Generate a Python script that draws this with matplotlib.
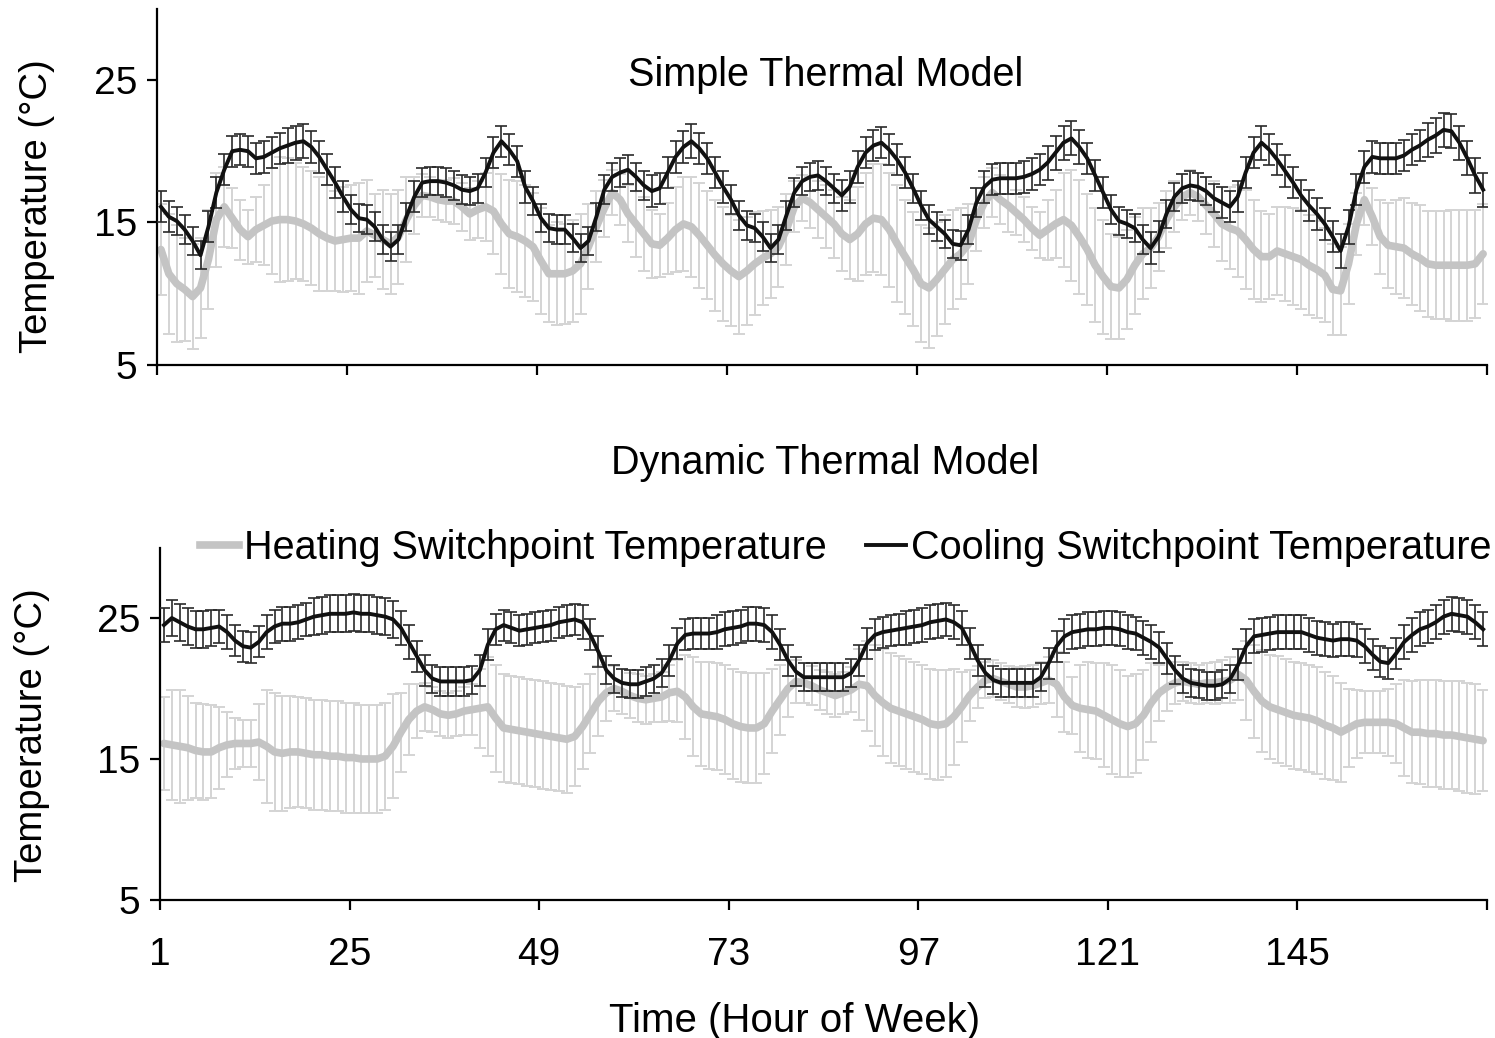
import numpy as np
import matplotlib
matplotlib.use("Agg")
import matplotlib.pyplot as plt
from matplotlib.lines import Line2D

plt.rcParams["font.family"] = ["Liberation Sans", "DejaVu Sans"]

hours = np.arange(1, 169)
tick_hours = [1, 25, 49, 73, 97, 121, 145, 169]

# simple thermal model: hourly mean switchpoints and standard deviations (degC)
simple_heat = [
    13.1, 11.4, 10.7, 10.3, 9.8, 10.4, 12.4, 15.2, 16.1, 15.3, 14.5, 14.0,
    14.5, 14.8, 15.1, 15.2, 15.2, 15.1, 14.9, 14.6, 14.2, 13.9, 13.7, 13.8,
    13.9, 13.9, 14.4, 14.1, 13.8, 13.5, 14.0, 15.2, 16.2, 16.9, 16.8, 16.6,
    16.5, 16.5, 16.1, 15.6, 15.9, 16.1, 15.8, 14.9, 14.2, 14.0, 13.7, 13.3,
    12.3, 11.4, 11.4, 11.4, 11.6, 12.1, 13.3, 14.7, 16.0, 17.1, 16.6, 15.6,
    14.9, 14.2, 13.5, 13.4, 13.9, 14.5, 14.9, 14.7, 14.1, 13.4, 12.7, 12.1,
    11.6, 11.2, 11.6, 12.1, 12.5, 12.8, 13.3, 14.5, 16.1, 16.7, 16.4, 15.9,
    15.4, 14.9, 14.2, 13.8, 14.2, 14.9, 15.3, 15.2, 14.5, 13.5, 12.6, 11.7,
    10.7, 10.4, 11.0, 11.7, 12.4, 12.8, 13.5, 15.2, 16.4, 17.1, 16.6, 16.2,
    15.7, 15.2, 14.6, 14.1, 14.5, 14.9, 15.2, 14.8, 14.0, 13.1, 12.0, 11.2,
    10.5, 10.4, 11.0, 12.0, 12.8, 13.2, 14.0, 15.2, 16.1, 16.8, 17.1, 16.8,
    16.2, 15.6, 14.9, 14.6, 14.4, 13.8, 13.1, 12.6, 12.6, 13.0, 12.8, 12.6,
    12.4, 12.0, 11.7, 11.3, 10.3, 10.2, 12.1, 14.9, 16.6, 15.4, 14.0, 13.4,
    13.3, 13.2, 12.8, 12.5, 12.1, 12.0, 12.0, 12.0, 12.0, 12.0, 12.1, 12.8,
]
simple_heat_sd = [
    3.2, 4.2, 4.1, 3.6, 3.7, 3.5, 3.5, 3.3, 2.8, 2.1, 2.1, 1.9,
    2.3, 2.8, 3.7, 4.4, 4.3, 4.1, 4.0, 4.0, 4.0, 3.7, 3.5, 3.7,
    3.7, 3.9, 3.6, 2.9, 3.5, 3.5, 3.3, 3.0, 2.0, 1.5, 1.4, 1.4,
    1.5, 1.6, 1.7, 1.8, 2.0, 2.4, 3.0, 3.5, 3.8, 3.9, 3.9, 3.8,
    3.7, 3.4, 3.6, 3.5, 3.6, 3.5, 3.0, 2.5, 2.0, 1.6, 1.8, 2.0,
    2.3, 2.6, 2.4, 2.2, 2.5, 3.0, 3.3, 3.5, 3.7, 3.8, 3.9, 4.0,
    3.9, 4.0, 3.8, 3.6, 3.3, 3.1, 2.8, 2.5, 1.8, 1.6, 1.8, 2.0,
    2.2, 2.4, 2.6, 2.8, 3.3, 3.6, 3.8, 3.9, 4.0, 4.1, 4.0, 4.0,
    4.1, 4.2, 4.0, 3.8, 3.5, 3.2, 2.8, 2.2, 1.8, 1.7, 1.7, 1.9,
    1.6, 1.6, 1.5, 1.6, 2.1, 2.4, 3.3, 3.9, 4.0, 3.9, 4.0, 4.0,
    3.7, 3.6, 3.5, 3.4, 3.2, 2.8, 2.4, 2.0, 1.8, 1.6, 1.6, 1.7,
    2.0, 2.3, 2.6, 2.9, 3.2, 3.5, 3.5, 3.2, 3.0, 3.1, 3.3, 3.4,
    3.5, 3.5, 3.4, 3.3, 3.2, 3.1, 2.8, 2.2, 1.8, 2.0, 2.6, 3.0,
    3.3, 3.5, 3.6, 3.7, 3.7, 3.8, 3.8, 3.9, 3.9, 3.9, 3.8, 3.5,
]
simple_cool = [
    16.1, 15.4, 15.1, 14.5, 13.7, 12.7, 14.7, 17.1, 18.7, 20.0, 20.1, 20.0,
    19.5, 19.6, 19.9, 20.2, 20.4, 20.6, 20.7, 20.3, 19.6, 18.7, 17.8, 16.8,
    15.9, 15.3, 15.2, 14.7, 13.8, 13.3, 13.8, 15.4, 16.8, 17.8, 17.9, 17.9,
    17.8, 17.6, 17.3, 17.2, 17.4, 18.5, 19.9, 20.7, 20.1, 19.3, 17.5, 16.5,
    15.3, 14.6, 14.5, 14.5, 13.9, 13.2, 13.7, 15.4, 17.3, 18.2, 18.5, 18.7,
    18.2, 17.6, 17.2, 17.4, 18.5, 19.6, 20.3, 20.7, 20.2, 19.5, 18.5, 17.5,
    16.6, 15.5, 14.8, 14.6, 14.0, 13.2, 13.8, 15.5, 17.1, 17.9, 18.2, 18.3,
    17.9, 17.4, 16.9, 17.5, 18.9, 19.9, 20.4, 20.6, 20.1, 19.4, 18.5, 17.4,
    16.2, 15.2, 14.7, 14.2, 13.5, 13.4, 14.5, 16.4, 17.5, 18.0, 18.1, 18.1,
    18.1, 18.2, 18.4, 18.7, 19.2, 19.9, 20.6, 20.9, 20.3, 19.5, 18.3, 17.1,
    15.9, 15.1, 14.9, 14.6, 13.8, 13.2, 14.0, 15.6, 16.8, 17.4, 17.6, 17.5,
    17.2, 16.7, 16.4, 16.1, 16.8, 18.5, 19.9, 20.6, 20.1, 19.4, 18.6, 17.8,
    16.9, 16.2, 15.6, 14.9, 14.0, 13.0, 14.7, 17.3, 18.9, 19.6, 19.5, 19.5,
    19.5, 19.7, 20.1, 20.4, 20.8, 21.1, 21.5, 21.4, 20.6, 19.5, 18.3, 17.3,
]
simple_cool_sd = [
    1.1, 1.1, 1.0, 1.0, 1.0, 1.0, 1.1, 1.1, 1.1, 1.1, 1.1, 1.1,
    1.1, 1.1, 1.1, 1.1, 1.2, 1.2, 1.2, 1.1, 1.1, 1.1, 1.1, 1.1,
    1.0, 1.0, 1.0, 1.0, 1.0, 1.0, 1.0, 1.0, 1.1, 1.0, 1.0, 1.0,
    1.0, 1.0, 1.0, 1.0, 1.0, 1.0, 1.1, 1.1, 1.1, 1.1, 1.1, 1.0,
    1.0, 1.0, 1.0, 1.0, 1.0, 1.0, 1.0, 1.0, 1.0, 1.0, 1.0, 1.0,
    1.0, 1.0, 1.1, 1.1, 1.1, 1.1, 1.1, 1.2, 1.1, 1.1, 1.1, 1.1,
    1.0, 1.0, 1.0, 1.0, 1.0, 1.0, 1.0, 1.0, 1.0, 1.0, 1.0, 1.0,
    1.0, 1.0, 1.1, 1.1, 1.1, 1.1, 1.1, 1.1, 1.1, 1.1, 1.1, 1.0,
    1.0, 1.0, 1.0, 1.0, 1.0, 1.0, 1.0, 1.0, 1.1, 1.1, 1.1, 1.1,
    1.1, 1.1, 1.1, 1.1, 1.2, 1.2, 1.2, 1.2, 1.2, 1.1, 1.1, 1.1,
    1.0, 1.0, 1.0, 1.0, 1.0, 1.1, 1.1, 1.0, 1.0, 1.0, 1.0, 1.0,
    1.0, 1.0, 1.1, 1.1, 1.1, 1.1, 1.1, 1.2, 1.1, 1.1, 1.1, 1.1,
    1.1, 1.1, 1.1, 1.1, 1.1, 1.2, 1.2, 1.1, 1.1, 1.1, 1.1, 1.1,
    1.1, 1.1, 1.1, 1.1, 1.2, 1.2, 1.2, 1.2, 1.2, 1.2, 1.2, 1.2,
]

# dynamic thermal model
dynamic_heat = [
    16.1, 16.0, 15.9, 15.8, 15.6, 15.5, 15.5, 15.8, 16.0, 16.1, 16.1, 16.1,
    16.2, 15.9, 15.5, 15.4, 15.5, 15.5, 15.4, 15.3, 15.3, 15.2, 15.2, 15.1,
    15.1, 15.0, 15.0, 15.0, 15.2, 15.9, 16.9, 17.8, 18.4, 18.7, 18.5, 18.2,
    18.1, 18.2, 18.4, 18.5, 18.6, 18.7, 17.9, 17.2, 17.1, 17.0, 16.9, 16.8,
    16.7, 16.6, 16.5, 16.4, 16.6, 17.3, 18.2, 19.1, 19.7, 20.0, 19.8, 19.5,
    19.3, 19.2, 19.3, 19.4, 19.7, 19.8, 19.4, 18.7, 18.2, 18.1, 18.0, 17.8,
    17.5, 17.3, 17.2, 17.2, 17.5, 18.4, 19.2, 20.0, 20.5, 20.4, 20.2, 19.9,
    19.7, 19.5, 19.7, 19.9, 20.3, 20.2, 19.5, 19.0, 18.6, 18.4, 18.2, 18.0,
    17.8, 17.5, 17.4, 17.5, 18.0, 18.7, 19.5, 20.1, 20.6, 20.7, 20.5, 20.3,
    20.1, 20.1, 20.2, 20.4, 20.6, 20.3, 19.4, 18.8, 18.6, 18.5, 18.4, 18.1,
    17.8, 17.5, 17.3, 17.5, 18.1, 19.0, 19.7, 20.1, 20.4, 20.5, 20.4, 20.3,
    20.4, 20.4, 20.5, 20.6, 21.0, 20.6, 19.8, 19.1, 18.7, 18.5, 18.3, 18.1,
    18.0, 17.9, 17.7, 17.4, 17.2, 16.9, 17.2, 17.5, 17.6, 17.6, 17.6, 17.6,
    17.5, 17.2, 16.9, 16.9, 16.8, 16.8, 16.7, 16.7, 16.6, 16.5, 16.4, 16.3,
]
dynamic_heat_sd = [
    3.3, 3.9, 4.0, 3.7, 3.4, 3.4, 3.3, 2.9, 2.3, 1.8, 1.7, 1.7,
    2.7, 4.0, 4.2, 4.1, 4.0, 3.9, 3.9, 3.9, 3.9, 3.9, 3.9, 3.9,
    3.9, 3.8, 3.8, 3.8, 3.8, 3.7, 2.8, 2.5, 1.9, 1.7, 1.6, 1.6,
    1.6, 1.6, 1.7, 1.8, 2.8, 3.5, 3.8, 3.8, 3.8, 3.8, 3.8, 3.8,
    3.8, 3.8, 3.8, 3.8, 3.5, 3.0, 2.8, 2.5, 2.0, 1.6, 1.6, 1.6,
    1.7, 1.7, 1.7, 1.8, 2.0, 2.2, 3.0, 3.5, 3.7, 3.8, 3.8, 3.9,
    3.9, 3.9, 3.9, 3.9, 3.6, 3.0, 2.5, 2.0, 1.5, 1.4, 1.4, 1.4,
    1.5, 1.5, 1.5, 1.6, 2.5, 3.2, 3.6, 3.8, 3.9, 3.9, 3.9, 3.9,
    3.9, 3.9, 3.9, 3.8, 3.4, 2.5, 1.8, 1.5, 1.3, 1.3, 1.3, 1.3,
    1.4, 1.5, 1.5, 1.5, 1.6, 2.3, 2.5, 2.0, 3.1, 3.4, 3.4, 3.7,
    3.9, 3.8, 3.6, 3.5, 3.2, 2.8, 2.0, 1.7, 1.5, 1.4, 1.4, 1.4,
    1.4, 1.5, 1.5, 1.6, 1.8, 2.8, 3.3, 3.6, 3.7, 3.8, 3.8, 3.8,
    3.8, 3.8, 3.8, 3.8, 3.7, 3.5, 2.8, 2.4, 2.2, 2.2, 2.2, 2.4,
    2.8, 3.4, 3.6, 3.7, 3.8, 3.8, 3.8, 3.8, 3.9, 3.9, 3.9, 3.6,
]
dynamic_cool = [
    24.5, 25.0, 24.7, 24.4, 24.2, 24.2, 24.3, 24.4, 24.0, 23.4, 23.0, 22.9,
    23.3, 24.0, 24.4, 24.6, 24.6, 24.7, 24.9, 25.1, 25.2, 25.3, 25.3, 25.3,
    25.4, 25.3, 25.3, 25.2, 25.1, 24.9, 24.3, 23.3, 22.3, 21.3, 20.7, 20.5,
    20.5, 20.5, 20.5, 20.6, 21.3, 23.1, 24.2, 24.5, 24.3, 24.1, 24.2, 24.3,
    24.4, 24.5, 24.7, 24.8, 24.9, 24.7, 23.8, 22.6, 21.3, 20.7, 20.4, 20.3,
    20.3, 20.5, 20.7, 21.1, 22.0, 23.2, 23.8, 23.9, 23.9, 23.9, 24.0, 24.2,
    24.3, 24.4, 24.6, 24.6, 24.5, 24.0, 23.1, 22.0, 21.2, 20.8, 20.8, 20.8,
    20.8, 20.8, 20.8, 21.1, 22.0, 23.2, 23.8, 24.0, 24.1, 24.2, 24.3, 24.4,
    24.5, 24.7, 24.8, 24.9, 24.7, 24.3, 23.2, 22.0, 21.1, 20.6, 20.4, 20.4,
    20.4, 20.4, 20.4, 20.8, 21.8, 23.0, 23.7, 24.0, 24.1, 24.2, 24.2, 24.3,
    24.3, 24.2, 24.0, 23.9, 23.6, 23.3, 22.9, 22.1, 21.3, 20.7, 20.4, 20.3,
    20.2, 20.2, 20.3, 20.7, 21.7, 23.0, 23.7, 23.8, 23.9, 24.0, 24.0, 24.0,
    24.0, 23.8, 23.6, 23.5, 23.4, 23.5, 23.5, 23.4, 23.0, 22.4, 21.9, 21.8,
    22.5, 23.3, 23.8, 24.2, 24.4, 24.7, 25.1, 25.3, 25.2, 25.1, 24.7, 24.2,
]
dynamic_cool_sd = [
    1.2, 1.3, 1.3, 1.3, 1.3, 1.3, 1.3, 1.2, 1.2, 1.1, 1.1, 1.1,
    1.1, 1.2, 1.2, 1.2, 1.2, 1.2, 1.2, 1.3, 1.3, 1.3, 1.3, 1.3,
    1.3, 1.3, 1.3, 1.3, 1.3, 1.3, 1.2, 1.2, 1.1, 1.1, 1.0, 1.0,
    1.0, 1.0, 1.0, 1.0, 1.1, 1.1, 1.1, 1.1, 1.1, 1.1, 1.1, 1.1,
    1.1, 1.1, 1.1, 1.1, 1.1, 1.2, 1.1, 1.1, 1.0, 1.0, 1.0, 1.0,
    1.0, 1.0, 1.0, 1.0, 1.1, 1.1, 1.1, 1.1, 1.1, 1.1, 1.2, 1.2,
    1.2, 1.2, 1.2, 1.2, 1.2, 1.2, 1.1, 1.1, 1.0, 1.0, 1.0, 1.0,
    1.0, 1.0, 1.0, 1.0, 1.1, 1.1, 1.1, 1.1, 1.1, 1.1, 1.2, 1.2,
    1.2, 1.2, 1.2, 1.2, 1.2, 1.2, 1.1, 1.1, 1.0, 1.0, 1.0, 1.0,
    1.0, 1.0, 1.0, 1.0, 1.1, 1.1, 1.2, 1.2, 1.2, 1.2, 1.2, 1.2,
    1.2, 1.2, 1.2, 1.2, 1.2, 1.2, 1.1, 1.1, 1.0, 1.0, 1.0, 1.0,
    1.0, 1.0, 1.0, 1.0, 1.1, 1.2, 1.2, 1.2, 1.2, 1.2, 1.2, 1.2,
    1.2, 1.2, 1.2, 1.2, 1.2, 1.2, 1.2, 1.2, 1.2, 1.1, 1.1, 1.1,
    1.1, 1.2, 1.2, 1.2, 1.2, 1.2, 1.2, 1.2, 1.2, 1.2, 1.2, 1.2,
]

HEAT_LINE = "#c4c4c4"
HEAT_BAR = "#d4d4d4"
COOL_LINE = "#111111"
COOL_BAR = "#2a2a2a"


def draw_panel(ax, heat, heat_sd, cool, cool_sd):
    ax.errorbar(hours, heat, yerr=heat_sd, fmt="none", ecolor=HEAT_BAR,
                elinewidth=1.4, capsize=4.5, capthick=1.4, zorder=1)
    ax.plot(hours, heat, color=HEAT_LINE, lw=5.5, solid_capstyle="round",
            solid_joinstyle="round", zorder=2)
    ax.errorbar(hours, cool, yerr=cool_sd, fmt="none", ecolor=COOL_BAR,
                elinewidth=1.2, capsize=4.5, capthick=1.2, zorder=3)
    ax.plot(hours, cool, color=COOL_LINE, lw=2.8, solid_joinstyle="round",
            zorder=4)

    ax.set_xlim(hours[0] - 0.5, hours[-1] + 0.5)
    ax.set_ylim(5, 30)
    ax.set_yticks([5, 15, 25])
    ax.set_xticks([h - 0.5 for h in tick_hours])
    for side in ("top", "right"):
        ax.spines[side].set_visible(False)
    for side in ("left", "bottom"):
        ax.spines[side].set_linewidth(1.6)
    ax.tick_params(axis="both", direction="out", length=7, width=1.6,
                   labelsize=28, colors="black")
    ax.tick_params(axis="y", pad=7)
    ax.set_ylabel("Temperature (°C)", fontsize=27.5)


fig = plt.figure(figsize=(14.95, 10.38), dpi=100)
ax_top = fig.add_axes([0.105, 0.6484, 0.8897, 0.3432])
ax_bot = fig.add_axes([0.107, 0.133, 0.8877, 0.3395])

draw_panel(ax_top, simple_heat, simple_heat_sd, simple_cool, simple_cool_sd)
draw_panel(ax_bot, dynamic_heat, dynamic_heat_sd, dynamic_cool, dynamic_cool_sd)

ax_top.set_xticklabels([])
ax_bot.set_xticklabels([str(h) for h in tick_hours[:-1]] + [""])
ax_bot.tick_params(axis="x", pad=20)
ax_bot.set_xlabel("Time (Hour of Week)", fontsize=29)
ax_bot.xaxis.set_label_coords(0.4785, -0.29)
ax_top.yaxis.set_label_coords(-0.077, 0.446)
ax_bot.yaxis.set_label_coords(-0.083, 0.468)

fig.text(0.552, 0.928, "Simple Thermal Model", fontsize=28.5, ha="center", va="center")
fig.text(0.552, 0.554, "Dynamic Thermal Model", fontsize=28.5, ha="center", va="center")

handles = [
    Line2D([], [], color=HEAT_LINE, lw=5.5),
    Line2D([], [], color=COOL_LINE, lw=2.8),
]
ax_bot.legend(handles, ["Heating Switchpoint Temperature",
                        "Cooling Switchpoint Temperature"],
              loc="center right", bbox_to_anchor=(1.015, 1.0), ncol=2,
              frameon=False, fontsize=28.5, handlelength=1.0, handletextpad=0.12,
              columnspacing=1.0, borderaxespad=0)

fig.savefig("out.png", dpi=100)
